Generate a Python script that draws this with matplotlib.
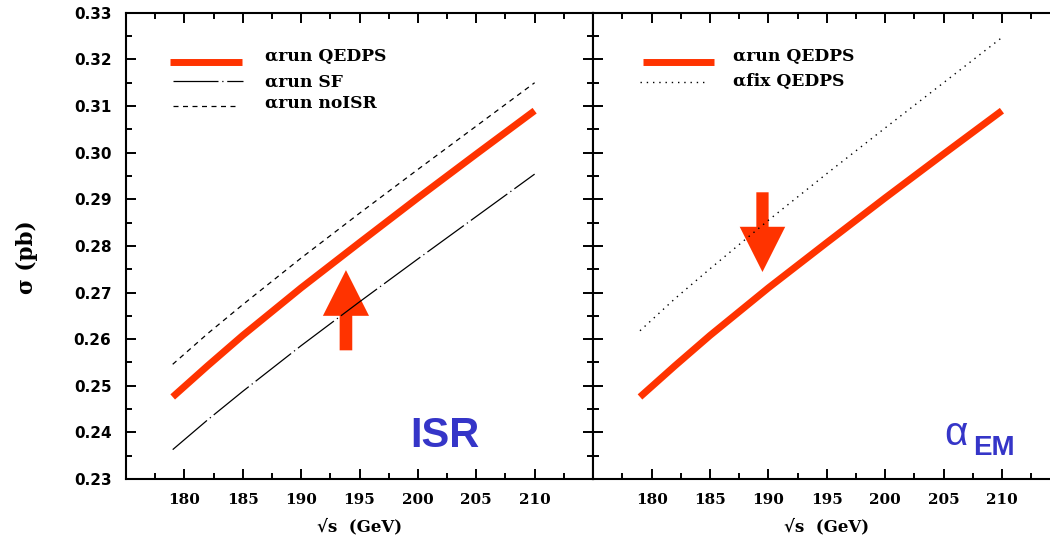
import matplotlib
matplotlib.use("Agg")
import matplotlib.pyplot as plt
from matplotlib.patches import FancyArrow
from matplotlib.ticker import MultipleLocator

# sqrt(s) in GeV
energy = [179, 182, 185, 190, 195, 200, 205, 210]
# cross sections in pb
run_qedps = [0.2476, 0.2543, 0.2608, 0.2710, 0.2807, 0.2903, 0.2997, 0.3090]
run_sf = [0.2363, 0.2427, 0.2488, 0.2586, 0.2680, 0.2772, 0.2863, 0.2954]
run_noisr = [0.2546, 0.2612, 0.2674, 0.2774, 0.2870, 0.2964, 0.3057, 0.3150]
fix_qedps = [0.2618, 0.2687, 0.2751, 0.2855, 0.2955, 0.3053, 0.3150, 0.3247]

xticks = [180, 185, 190, 195, 200, 205, 210]
yticks = [0.23, 0.24, 0.25, 0.26, 0.27, 0.28, 0.29, 0.30, 0.31, 0.32, 0.33]

RED = "#ff3300"
BLUE = "#3535c8"
SERIF = "DejaVu Serif"

fig = plt.figure(figsize=(10.5, 5.4), dpi=100)
ax1 = fig.add_axes([126/1050, 61/540, 467/1050, 466.2/540])
ax2 = fig.add_axes([593.3/1050, 61/540, 467/1050, 466.2/540])


def style_axes(ax, ylabels):
    ax.set_xlim(175, 215)
    ax.set_ylim(0.23, 0.33)
    ax.xaxis.set_minor_locator(MultipleLocator(2.5))
    ax.yaxis.set_minor_locator(MultipleLocator(0.005))
    ax.set_xticks(xticks)
    ax.set_xticklabels([str(t) for t in xticks], family=SERIF,
                       fontweight="bold", fontsize=11)
    ax.set_yticks(yticks)
    if ylabels:
        ax.set_yticklabels(["%.2f" % t for t in yticks], family="DejaVu Sans",
                           fontweight="bold", fontsize=11)
    else:
        ax.set_yticklabels([])
    ax.tick_params(which="major", direction="in", length=7.5, width=1.4,
                   top=True, right=ylabels, pad=10)
    ax.tick_params(which="minor", direction="in", length=4, width=1.4,
                   top=True, right=ylabels)
    ax.tick_params(axis="y", pad=10.5)
    for s in ax.spines.values():
        s.set_linewidth(1.5)
    if not ylabels:
        ax.spines["right"].set_visible(False)
    ax.set_xlabel("\u221as  (GeV)", family=SERIF, fontweight="bold",
                  fontsize=12, labelpad=8)


style_axes(ax1, True)
style_axes(ax2, False)

# left panel: ISR
ax1.plot(energy, run_noisr, color="black", lw=0.9, ls=(0, (4, 3.6)))
ax1.plot(energy, run_sf, color="black", lw=0.9, ls=(0, (36, 3, 1, 3)))
ax1.plot(energy, run_qedps, color=RED, lw=5, solid_capstyle="butt",
         solid_joinstyle="round")
ax1.add_patch(FancyArrow(193.84, 0.2576, 0, 0.0172, width=1.08,
                         head_width=3.95, head_length=0.0098,
                         length_includes_head=True, color=RED, lw=0))
ax1.text(202.3, 0.2368, "ISR", color=BLUE, fontsize=30, fontweight="bold",
         family="Liberation Sans", ha="center", va="baseline")

# legend, left
ax1.plot([0.094, 0.248], [0.895, 0.895], transform=ax1.transAxes,
         color=RED, lw=5, solid_capstyle="butt")
ax1.plot([0.100, 0.251], [0.853, 0.853], transform=ax1.transAxes,
         color="black", lw=0.9, ls=(0, (36, 3, 1, 3)))
ax1.plot([0.100, 0.241], [0.800, 0.800], transform=ax1.transAxes,
         color="black", lw=0.9, ls=(0, (4, 3.6)))
for yy, lab in [(0.896, "\u03b1run QEDPS"), (0.841, "\u03b1run SF"),
                (0.797, "\u03b1run noISR")]:
    ax1.text(0.298, yy, lab, transform=ax1.transAxes, family=SERIF,
             fontweight="bold", fontsize=12.3, va="baseline")

# right panel: alpha_EM
ax2.plot(energy, fix_qedps, color="black", lw=1.0, ls=(0, (1, 3.5)))
ax2.plot(energy, run_qedps, color=RED, lw=5, solid_capstyle="butt",
         solid_joinstyle="round")
ax2.add_patch(FancyArrow(189.49, 0.2915, 0, -0.0171, width=1.05,
                         head_width=3.9, head_length=0.0097,
                         length_includes_head=True, color=RED, lw=0))
ax2.text(205.1, 0.2373, "\u03b1", color=BLUE, fontsize=29,
         family="Liberation Sans", ha="left", va="baseline")
ax2.text(207.5, 0.2351, "EM", color=BLUE, fontsize=20, fontweight="bold",
         family="Liberation Sans", ha="left", va="baseline")

# legend, right
ax2.plot([0.106, 0.259], [0.895, 0.895], transform=ax2.transAxes,
         color=RED, lw=5, solid_capstyle="butt")
ax2.plot([0.100, 0.243], [0.851, 0.851], transform=ax2.transAxes,
         color="black", lw=1.0, ls=(0, (1, 3.5)))
for yy, lab in [(0.896, "\u03b1run QEDPS"), (0.843, "\u03b1fix QEDPS")]:
    ax2.text(0.300, yy, lab, transform=ax2.transAxes, family=SERIF,
             fontweight="bold", fontsize=12.3, va="baseline")

fig.text(27/1050, 1 - 257/540, "\u03c3 (pb)", rotation=90, family=SERIF,
         fontweight="bold", fontsize=15.5, ha="center", va="center")

fig.savefig("out.png", dpi=100)
